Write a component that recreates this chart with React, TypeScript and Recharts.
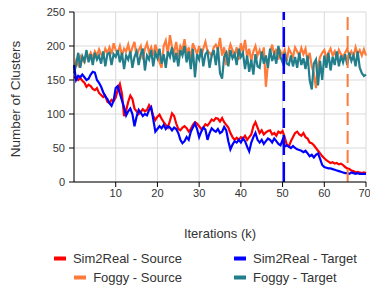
import { LineChart, Line, XAxis, YAxis, CartesianGrid, ReferenceLine } from 'recharts';

// iterations step 0.5k, 10 values per row (5k per row), last value = 70k
const sim2realSource = [
  155, 152, 150, 153, 149, 146, 140, 143, 141, 137,
  135, 138, 131, 128, 125, 127, 118, 116, 121, 119,
  124, 136, 144, 130, 97, 105, 118, 127, 122, 108,
  104, 100, 103, 107, 104, 106, 113, 108, 97, 91,
  96, 99, 93, 88, 84, 80, 90, 101, 97, 86,
  78, 76, 80, 82, 79, 74, 78, 84, 88, 86,
  82, 78, 80, 85, 83, 87, 92, 90, 94, 93,
  89, 94, 88, 84, 80, 72, 66, 62, 65, 62,
  66, 64, 68, 62, 66, 70, 82, 88, 80, 72,
  76, 70, 73, 75, 76, 70, 72, 68, 74, 72,
  75, 66, 55, 52, 60, 66, 72, 74, 70, 68,
  72, 66, 64, 58, 57, 54, 50, 46, 42, 38,
  35, 32, 30, 28, 29, 27, 28, 26, 27, 25,
  22, 20, 19, 17, 16, 14, 15, 14, 13, 14,
  13,
];

const sim2realTarget = [
  172, 150, 156, 154, 158, 154, 150, 152, 158, 162,
  161, 150, 146, 140, 132, 126, 122, 116, 112, 120,
  138, 141, 130, 120, 110, 98, 104, 108, 100, 82,
  96, 106, 102, 97, 100, 98, 106, 110, 92, 74,
  78, 82, 79, 84, 78, 82, 80, 76, 80, 78,
  72, 62, 57, 60, 66, 62, 74, 80, 86, 78,
  66, 74, 80, 77, 62, 72, 79, 76, 74, 78,
  72, 74, 81, 76, 60, 48, 55, 60, 58, 62,
  58, 64, 60, 52, 45, 58, 66, 72, 62, 58,
  62, 56, 60, 64, 62, 58, 64, 60, 56, 54,
  62, 52, 54, 52, 50, 53, 50, 48, 47, 46,
  44, 46, 42, 38, 40, 36, 40, 42, 34, 25,
  22, 21, 20, 20, 19, 18, 17, 16, 15, 14,
  13, 13, 12, 14, 13, 12, 13, 12, 12, 12,
  12,
];

const foggySource = [
  165, 178, 172, 185, 180, 176, 188, 184, 190, 182,
  192, 186, 195, 188, 184, 196, 190, 198, 188, 204,
  194, 190, 200, 186, 196, 192, 202, 188, 198, 206,
  184, 194, 200, 180, 196, 204, 190, 198, 186, 202,
  192, 176, 168, 200, 208, 188, 216, 198, 190, 206,
  184, 200, 194, 210, 188, 198, 182, 204, 196, 188,
  200, 184, 196, 206, 192, 190, 186, 198, 202, 194,
  212, 186, 198, 172, 190, 202, 194, 186, 198, 180,
  204, 190, 209, 184, 196, 178, 192, 200, 186, 194,
  182, 198, 140, 176, 190, 202, 186, 196, 180, 192,
  186, 194, 178, 196, 190, 184, 198, 192, 186, 197,
  188, 196, 178, 190, 170, 160, 138, 172, 184, 190,
  194, 182, 190, 196, 186, 192, 180, 194, 188, 184,
  190, 196, 186, 192, 184, 198, 188, 194, 186, 195,
  186,
];

const foggyTarget = [
  160, 172, 190, 168, 185, 178, 194, 176, 188, 172,
  190, 180, 186, 174, 192, 170, 188, 190, 172, 188,
  184, 194, 176, 190, 166, 186, 180, 192, 168, 184,
  192, 172, 188, 196, 164, 186, 180, 194, 170, 190,
  182, 196, 174, 188, 168, 192, 184, 198, 176, 190,
  170, 194, 186, 200, 176, 192, 166, 196, 154, 188,
  180, 196, 170, 188, 192, 168, 186, 194, 172, 198,
  160, 152, 184, 190, 170, 194, 182, 188, 172, 196,
  184, 190, 166, 186, 162, 180, 158, 188, 170, 168,
  192, 174, 186, 168, 196, 178, 188, 174, 200, 184,
  176, 190, 174, 172, 186, 170, 184, 168, 190, 172,
  182, 166, 186, 150, 136, 174, 180, 142, 178, 150,
  186, 168, 190, 164, 184, 172, 192, 170, 186, 176,
  188, 172, 190, 178, 186, 170, 192, 168, 160, 156,
  158,
];

const xTicks = [10, 20, 30, 40, 50, 60, 70];
const yTicks = [0, 50, 100, 150, 200, 250];
const sim2realStop = 50.3;
const foggyStop = 65.6;

const RED = '#ff0000';
const BLUE = '#0000ff';
const ORANGE = '#ff7b3a';
const TEAL = '#217e8a';

const data = sim2realSource.map((v, i) => ({
  k: i * 0.5,
  s2rSrc: v,
  s2rTgt: sim2realTarget[i],
  fogSrc: foggySource[i],
  fogTgt: foggyTarget[i],
}));

const legendItems = [
  { label: 'Sim2Real - Source', color: RED, col: 0 },
  { label: 'Sim2Real - Target', color: BLUE, col: 1 },
  { label: 'Foggy - Source', color: ORANGE, col: 0 },
  { label: 'Foggy - Target', color: TEAL, col: 1 },
];

const font = 'Arial, "Liberation Sans", sans-serif';

export default function App() {
  return (
    <div
      style={{
        position: 'fixed',
        left: 0,
        top: 0,
        width: 370,
        height: 287,
        background: '#fff',
        fontFamily: font,
        color: '#333',
      }}
    >
      <LineChart width={370} height={215} data={data} margin={{ top: 12, right: 4, left: 0, bottom: 3 }}>
        <CartesianGrid stroke="#d9d9d9" strokeWidth={1} />
        <XAxis
          dataKey="k"
          type="number"
          domain={[0, 70]}
          ticks={xTicks}
          height={30}
          tick={{ fontSize: 11, fill: '#333', fontFamily: font }}
          axisLine={{ stroke: '#000' }}
          tickLine={{ stroke: '#000' }}
          tickSize={5}
        />
        <YAxis
          domain={[0, 250]}
          ticks={yTicks}
          width={74}
          tick={{ fontSize: 11, fill: '#333', fontFamily: font }}
          axisLine={{ stroke: '#000' }}
          tickLine={{ stroke: '#000' }}
          tickSize={5}
          tickMargin={4}
        />
        <Line dataKey="fogSrc" stroke={ORANGE} strokeWidth={2.2} dot={false} isAnimationActive={false} />
        <Line dataKey="fogTgt" stroke={TEAL} strokeWidth={2.2} dot={false} isAnimationActive={false} />
        <Line dataKey="s2rSrc" stroke={RED} strokeWidth={2.2} dot={false} isAnimationActive={false} />
        <Line dataKey="s2rTgt" stroke={BLUE} strokeWidth={2.2} dot={false} isAnimationActive={false} />
        <ReferenceLine x={sim2realStop} stroke={BLUE} strokeWidth={2.5} strokeDasharray="20 7" />
        <ReferenceLine x={foggyStop} stroke={ORANGE} strokeWidth={2} strokeDasharray="13 6" />
      </LineChart>
      <div
        style={{
          position: 'absolute',
          left: 15,
          top: 99,
          fontSize: 13.5,
          whiteSpace: 'nowrap',
          transform: 'translate(-50%, -50%) rotate(-90deg)',
        }}
      >
        Number of Clusters
      </div>
      <div
        style={{
          position: 'absolute',
          left: 220,
          top: 233,
          fontSize: 13,
          whiteSpace: 'nowrap',
          transform: 'translate(-50%, -50%)',
        }}
      >
        Iterations (k)
      </div>
      {legendItems.map((it, i) => {
        const row = Math.floor(i / 2);
        const top = 258 + row * 19;
        const style: React.CSSProperties =
          it.col === 0
            ? { position: 'absolute', right: 370 - 182, top, display: 'flex', alignItems: 'center' }
            : { position: 'absolute', left: 234, top, display: 'flex', alignItems: 'center' };
        return (
          <div key={it.label} style={{ ...style, transform: 'translateY(-50%)', fontSize: 13, whiteSpace: 'nowrap' }}>
            <span style={{ display: 'inline-block', width: 12, height: 4, background: it.color, marginRight: 7 }} />
            <span>{it.label}</span>
          </div>
        );
      })}
    </div>
  );
}
